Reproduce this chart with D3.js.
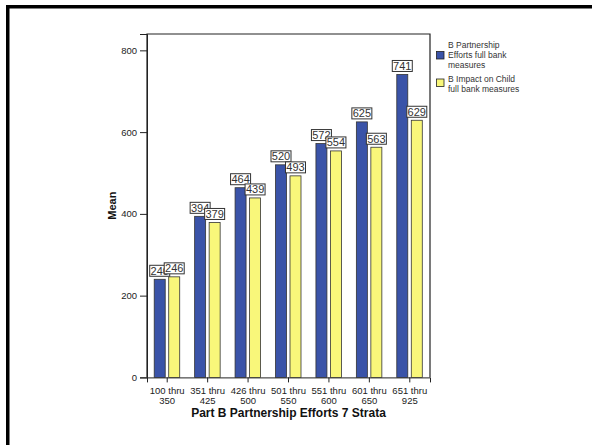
<!DOCTYPE html>
<html><head><meta charset="utf-8">
<script src="https://cdn.jsdelivr.net/npm/d3@7"></script>
<style>body{margin:0;background:#fff}svg{display:block;font-family:Arial,"Liberation Sans",sans-serif}</style>
</head><body>
<script>
const categories = [["100 thru","350"],["351 thru","425"],["426 thru","500"],["501 thru","550"],["551 thru","600"],["601 thru","650"],["651 thru","925"]];
const effortsValues = [240, 394, 464, 520, 572, 625, 741];
const impactValues = [246, 379, 439, 493, 554, 563, 629];
const yTicks = [0, 200, 400, 600, 800];
const seriesNames = [["B Partnership","Efforts full bank","measures"],["B Impact on Child","full bank measures"]];
const colors = ["#3a53a8", "#f9f77a"];

const W = 592, H = 445;
const svg = d3.select("body").append("svg").attr("width", W).attr("height", H);

// outer frame (top/left)
svg.append("rect").attr("x",6).attr("y",5).attr("width",W-6).attr("height",3.5).attr("fill","#000");
svg.append("rect").attr("x",6).attr("y",5).attr("width",3.5).attr("height",H-5).attr("fill","#000");

const L = 147, R = 430, T = 34, B = 377.4;
const x = d3.scaleBand().domain(categories.map((d,i)=>i)).range([L, R]).padding(0);
const y = d3.scaleLinear().domain([0, 840]).range([B, T]);

// plot frame
svg.append("path").attr("d",`M${L},${B}V${T}H${R}V${B}`).attr("fill","none").attr("stroke","#222").attr("stroke-width",1.2);

// y axis
const ya = svg.append("g").attr("transform",`translate(${L},0)`).call(d3.axisLeft(y).tickValues(yTicks).tickSize(7).tickPadding(3));
ya.select(".domain").attr("stroke","#222");
ya.selectAll("line").attr("stroke","#222");
ya.selectAll("text").attr("font-size",9.5).attr("fill","#222").attr("font-family","Arial,'Liberation Sans',sans-serif");

// x axis
const xa = svg.append("g").attr("transform",`translate(0,${B})`).call(d3.axisBottom(x).tickSize(5).tickFormat(""));
xa.select(".domain").attr("stroke","#222");
xa.selectAll("line").attr("stroke","#222");
xa.selectAll(".tick").each(function(d){
  const t = d3.select(this).append("text").attr("fill","#222").attr("font-size",9.5).attr("text-anchor","middle");
  t.append("tspan").attr("x",0).attr("y",17).text(categories[d][0]);
  t.append("tspan").attr("x",0).attr("y",27).text(categories[d][1]);
});

const bw = 11;
const series = [effortsValues, impactValues];
const offs = [-13, 1.5];
series.forEach((vals, s) => {
  svg.append("g").selectAll("rect").data(vals).join("rect")
    .attr("x",(d,i)=>x(i)+x.bandwidth()/2+offs[s])
    .attr("y",d=>y(d)).attr("width",bw).attr("height",d=>B-y(d))
    .attr("fill",colors[s]).attr("stroke","#333").attr("stroke-width",0.8);
});
// labels
series.forEach((vals, s) => {
  const g = svg.append("g").selectAll("g").data(vals).join("g")
    .attr("transform",(d,i)=>`translate(${x(i)+x.bandwidth()/2+offs[s]+bw/2},${y(d)-3})`);
  g.append("rect").attr("x",-10).attr("y",-11).attr("width",20).attr("height",11)
    .attr("fill","#fff").attr("stroke","#333").attr("stroke-width",1);
  g.append("text").attr("text-anchor","middle").attr("y",-1.5).attr("font-size",11).attr("fill","#333").text(d=>d);
});

// axis titles
svg.append("text").attr("x",(L+R)/2).attr("y",417).attr("text-anchor","middle").attr("font-weight","bold").attr("font-size",12).attr("fill","#111").text("Part B Partnership Efforts 7 Strata");
svg.append("text").attr("transform",`translate(116,${(T+B)/2}) rotate(-90)`).attr("text-anchor","middle").attr("font-weight","bold").attr("font-size",11).attr("fill","#111").text("Mean");

// legend
const leg = svg.append("g");
const legY = [51.5, 79];
seriesNames.forEach((lines, s) => {
  leg.append("rect").attr("x",436.5).attr("y",legY[s]).attr("width",7.5).attr("height",7.5).attr("fill",colors[s]).attr("stroke","#222").attr("stroke-width",0.8);
  const t = leg.append("text").attr("font-size",8.5).attr("fill","#333");
  const startY = s === 0 ? 48 : 81.5;
  lines.forEach((ln, k) => t.append("tspan").attr("x",448).attr("y",startY + k*10).text(ln));
});
</script>
</body></html>
